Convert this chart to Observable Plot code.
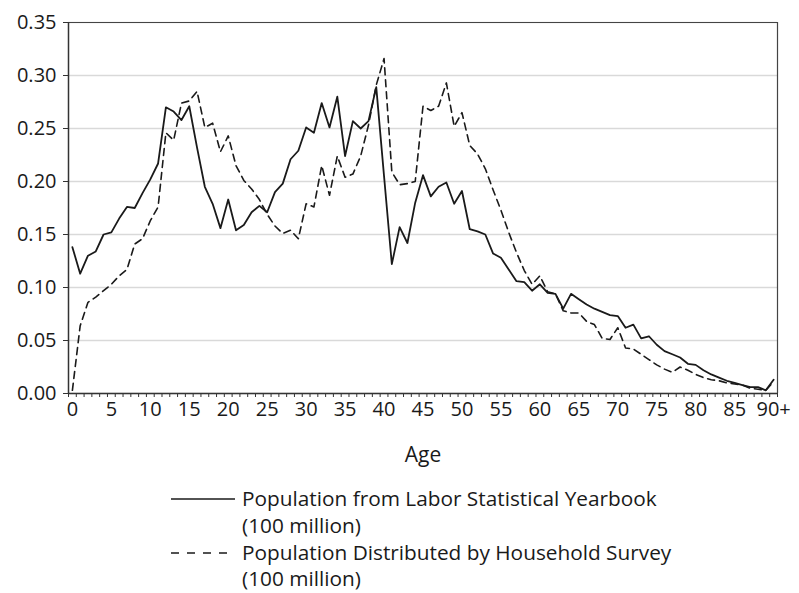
<!DOCTYPE html>
<html>
<head>
<meta charset="utf-8">
<script src="https://cdn.jsdelivr.net/npm/d3@7"></script>
<script src="https://cdn.jsdelivr.net/npm/@observablehq/plot@0.6"></script>
<style>
  html, body { margin: 0; padding: 0; background: #fff; }
  #wrap { position: relative; width: 799px; height: 593px; font-family: "Open Sans", sans-serif; color: #1a1a1a; }
  #legend { position: absolute; left: 171px; top: 485px; font-size: 20.8px; line-height: 26.8px; }
  .row { display: flex; align-items: flex-start; }
  .row svg { flex: none; margin-right: 7px; }
</style>
</head>
<body>
<div id="wrap"><div id="chart"></div><div id="legend"></div></div>
<script>
const ages = d3.range(0, 91);
const labor = [0.138,0.113,0.130,0.134,0.150,0.152,0.165,0.176,0.175,0.189,
  0.202,0.217,0.270,0.266,0.258,0.271,0.232,0.195,0.179,0.156,
  0.183,0.154,0.159,0.171,0.177,0.171,0.190,0.198,0.221,0.229,
  0.251,0.246,0.274,0.251,0.280,0.224,0.257,0.250,0.257,0.289,
  0.205,0.122,0.157,0.142,0.180,0.206,0.186,0.195,0.199,0.179,
  0.191,0.155,0.153,0.150,0.132,0.128,0.117,0.106,0.105,0.097,
  0.103,0.095,0.094,0.080,0.094,0.089,0.084,0.080,0.077,0.074,
  0.073,0.062,0.065,0.052,0.054,0.046,0.040,0.037,0.034,0.028,
  0.027,0.022,0.018,0.015,0.012,0.010,0.008,0.006,0.006,0.003,
  0.013];
const survey = [0.003,0.064,0.086,0.091,0.097,0.103,0.111,0.117,0.141,0.146,
  0.163,0.176,0.246,0.239,0.274,0.276,0.285,0.251,0.255,0.228,
  0.243,0.215,0.201,0.193,0.183,0.169,0.158,0.151,0.154,0.146,
  0.179,0.176,0.215,0.187,0.224,0.204,0.207,0.224,0.253,0.291,
  0.316,0.209,0.197,0.198,0.200,0.271,0.267,0.271,0.293,0.252,
  0.265,0.234,0.226,0.212,0.192,0.173,0.152,0.133,0.116,0.103,
  0.111,0.096,0.094,0.078,0.076,0.076,0.068,0.065,0.052,0.051,
  0.062,0.043,0.042,0.037,0.032,0.027,0.023,0.020,0.025,0.022,
  0.018,0.015,0.013,0.012,0.010,0.009,0.008,0.005,0.004,0.003,
  0.011];
const xTickValues = [0,5,10,15,20,25,30,35,40,45,50,55,60,65,70,75,80,85,90];
const xTickLabels = ["0","5","10","15","20","25","30","35","40","45","50","55","60","65","70","75","80","85","90+"];
const yTicks = [0,0.05,0.10,0.15,0.20,0.25,0.30,0.35];
const xLabel = "Age";
const seriesNames = ["Population from Labor Statistical Yearbook", "Population Distributed by Household Survey"];
const unitNote = "(100 million)";

const data = ages.map((a, i) => ({age: a, labor: labor[i], survey: survey[i]}));
const boundaries = d3.range(-0.5, 91, 1);

const chart = Plot.plot({
  width: 799,
  height: 480,
  marginLeft: 68,
  marginRight: 22,
  marginTop: 22,
  marginBottom: 87,
  style: {fontFamily: "'Open Sans', sans-serif", fontSize: "20px", color: "#1a1a1a", background: "#fff"},
  x: {domain: [-0.5, 90.5]},
  y: {domain: [0, 0.35]},
  marks: [
    Plot.gridY(yTicks, {stroke: "#d9d9d9", strokeOpacity: 1, strokeWidth: 1.5}),
    Plot.ruleY([0.35], {stroke: "#444", strokeWidth: 1.2}),
    Plot.ruleX([90.5], {stroke: "#444", strokeWidth: 1.2}),
    Plot.ruleX([-0.5], {stroke: "#333", strokeWidth: 1.5}),
    Plot.axisY(yTicks, {tickFormat: d => d.toFixed(2), tickSize: 5, tickPadding: 7, label: null, stroke: "#333", fill: "#1a1a1a"}),
    Plot.axisX(boundaries, {tickSize: 4, tickFormat: () => "", label: null, stroke: "#333"}),
    Plot.axisX(xTickValues, {tickSize: 0, tickPadding: 8, tickFormat: d => xTickLabels[xTickValues.indexOf(d)], label: null, fill: "#1a1a1a"}),
    Plot.ruleY([0], {stroke: "#333", strokeWidth: 1.5}),
    Plot.lineY(data, {x: "age", y: "survey", stroke: "#1a1a1a", strokeWidth: 1.6, strokeDasharray: "7,5"}),
    Plot.lineY(data, {x: "age", y: "labor", stroke: "#1a1a1a", strokeWidth: 1.8}),
    Plot.text([xLabel], {frameAnchor: "bottom", dy: 68, fontSize: 21, fill: "#1a1a1a"})
  ]
});
document.getElementById("chart").appendChild(chart);

const legend = document.getElementById("legend");
const dashes = ["none", "8,8"];
seriesNames.forEach((name, i) => {
  const row = document.createElement("div");
  row.className = "row";
  const ns = "http://www.w3.org/2000/svg";
  const svg = document.createElementNS(ns, "svg");
  svg.setAttribute("width", 64);
  svg.setAttribute("height", 28);
  const line = document.createElementNS(ns, "line");
  line.setAttribute("x1", 0); line.setAttribute("x2", 64);
  line.setAttribute("y1", 14); line.setAttribute("y2", 14);
  line.setAttribute("stroke", "#1a1a1a");
  line.setAttribute("stroke-width", 1.6);
  if (dashes[i] !== "none") line.setAttribute("stroke-dasharray", dashes[i]);
  svg.appendChild(line);
  const txt = document.createElement("div");
  txt.innerHTML = name + "<br>" + unitNote;
  row.appendChild(svg);
  row.appendChild(txt);
  legend.appendChild(row);
});
</script>
</body>
</html>
